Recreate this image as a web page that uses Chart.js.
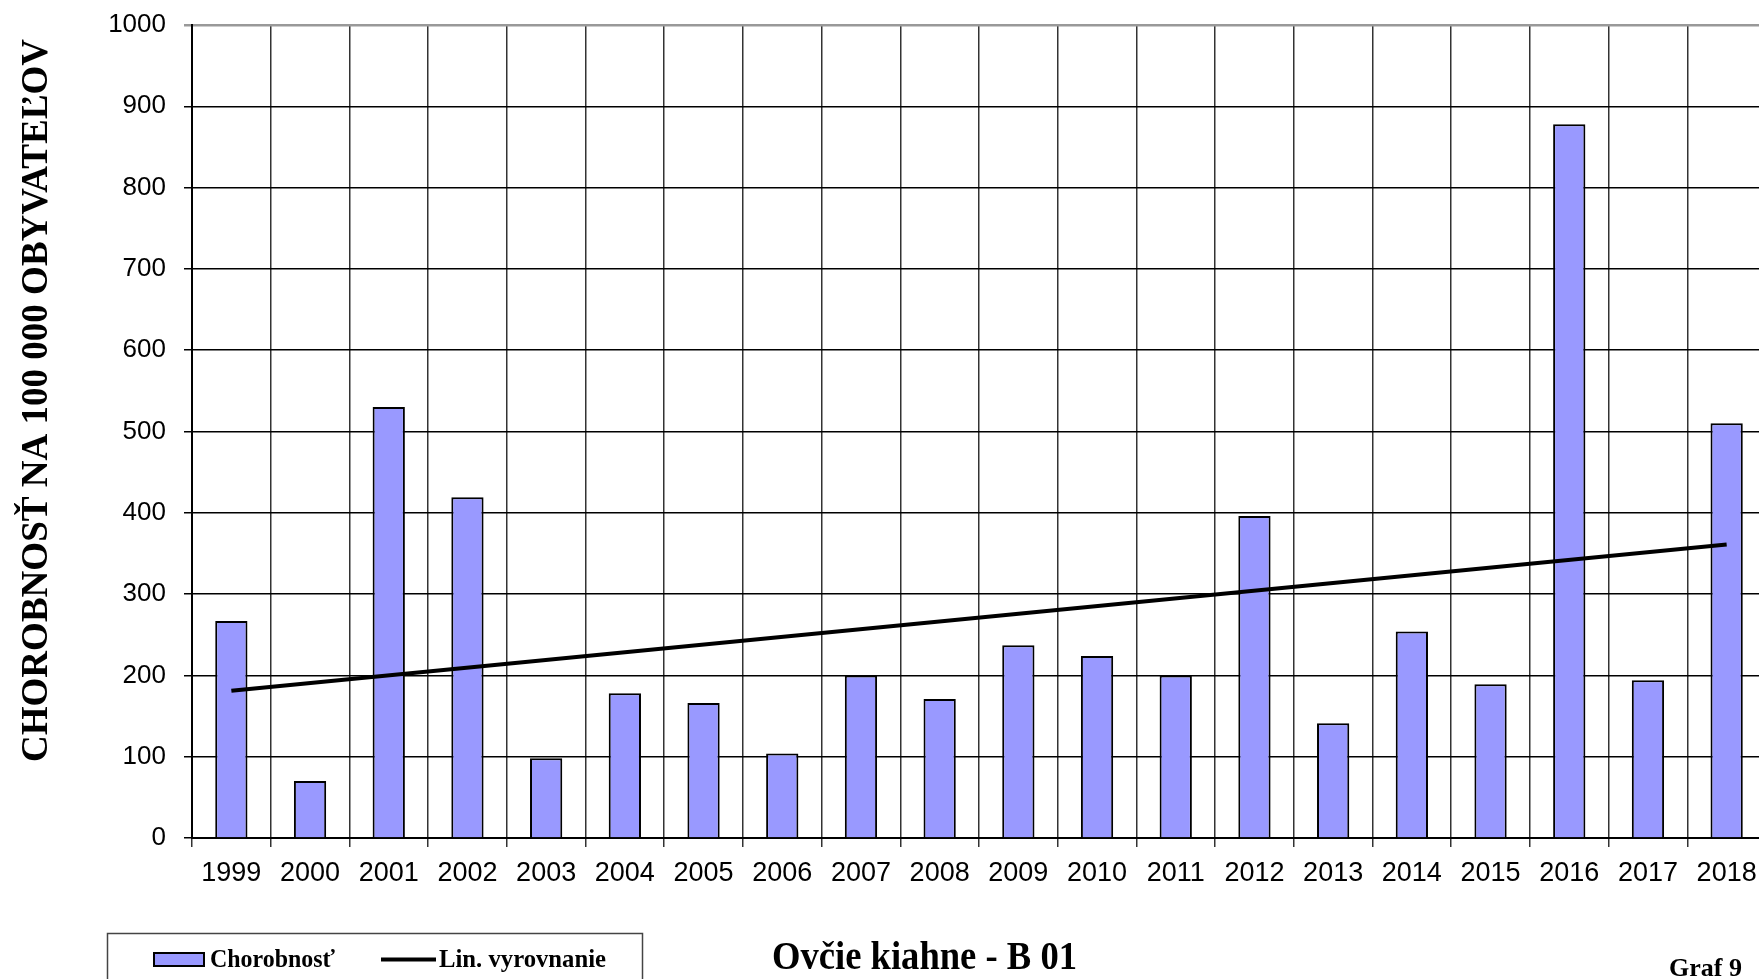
<!DOCTYPE html>
<html>
<head>
<meta charset="utf-8">
<title>Ovčie kiahne - B 01</title>
<script src="https://cdn.jsdelivr.net/npm/chart.js@4/dist/chart.umd.min.js"></script>
<style>
    html, body { margin: 0; padding: 0; background: #fff; overflow: hidden; }
    #graf { display: block; }
</style>
</head>
<body>
<canvas id="graf" width="1780" height="979"></canvas>
<script>
var roky = ["1999", "2000", "2001", "2002", "2003", "2004", "2005", "2006", "2007", "2008",
            "2009", "2010", "2011", "2012", "2013", "2014", "2015", "2016", "2017", "2018"];
var chorobnost = [267, 70, 530, 419, 98, 178, 166, 104, 200, 171,
                  237, 224, 200, 396, 141, 254, 189, 878, 194, 510];
// trend line: only its two end points
var vyrovnanie = [181, null, null, null, null, null, null, null, null, null,
                  null, null, null, null, null, null, null, null, null, 361];
var yTicks = [0, 100, 200, 300, 400, 500, 600, 700, 800, 900, 1000];

var nazovOsi = "CHOROBNOSŤ NA 100 000 OBYVATEĽOV";
var nazov = "Ovčie kiahne - B 01";
var cisloGrafu = "Graf 9";

var serif = '"Liberation Serif", "Times New Roman", serif';

// draws text squeezed to a given width
function textNaSirku(ctx, text, x, y, sirka) {
    var w = ctx.measureText(text).width;
    ctx.save();
    ctx.translate(x, y);
    ctx.scale(sirka / w, 1);
    ctx.fillText(text, 0, 0);
    ctx.restore();
}

var popisy = {
    id: 'popisy',
    afterDraw: function (chart) {
        var ctx = chart.ctx;
        ctx.save();
        ctx.fillStyle = '#000';
        ctx.textBaseline = 'alphabetic';

        // y axis title
        ctx.save();
        ctx.translate(47, 762);
        ctx.rotate(-Math.PI / 2);
        ctx.font = 'bold 38px ' + serif;
        ctx.textAlign = 'left';
        textNaSirku(ctx, nazovOsi, 0, 0, 723);
        ctx.restore();

        // legend
        ctx.strokeStyle = '#444';
        ctx.lineWidth = 1.5;
        ctx.strokeRect(107.5, 933.5, 535, 80);

        var ds = chart.data.datasets;
        ctx.fillStyle = ds[0].backgroundColor;
        ctx.fillRect(154, 953, 50, 13);
        ctx.strokeStyle = '#000';
        ctx.lineWidth = 2;
        ctx.strokeRect(154, 953, 50, 13);
        ctx.fillStyle = '#000';
        ctx.font = 'bold 25px ' + serif;
        ctx.textAlign = 'left';
        textNaSirku(ctx, ds[0].label, 210, 967, 125);

        ctx.beginPath();
        ctx.lineWidth = 4;
        ctx.moveTo(381, 959.5);
        ctx.lineTo(436, 959.5);
        ctx.stroke();
        textNaSirku(ctx, ds[1].label, 439, 967, 167);

        // title
        ctx.font = 'bold 39px ' + serif;
        textNaSirku(ctx, nazov, 772, 969, 305);

        ctx.font = 'bold 26px ' + serif;
        textNaSirku(ctx, cisloGrafu, 1669, 976, 73);
        ctx.restore();
    }
};

var ctx = document.getElementById("graf");
var graf = new Chart(ctx, {
    type: 'bar',
    data: {
        labels: roky,
        datasets: [{
            type: 'bar',
            label: 'Chorobnosť',
            data: chorobnost,
            backgroundColor: '#9999ff',
            borderColor: '#000',
            borderWidth: 2,
            barPercentage: 0.41,
            categoryPercentage: 1,
            order: 2
        }, {
            type: 'line',
            label: 'Lin. vyrovnanie',
            data: vyrovnanie,
            borderColor: '#000',
            borderWidth: 4,
            pointRadius: 0,
            spanGaps: true,
            fill: false,
            order: 1
        }]
    },
    options: {
        responsive: false,
        animation: false,
        devicePixelRatio: 1,
        layout: {
            padding: {left: 97, top: 25, right: 14, bottom: 91}
        },
        plugins: {
            legend: {display: false},
            tooltip: {enabled: false}
        },
        scales: {
            x: {
                offset: true,
                grid: {
                    offset: true,
                    color: '#333',
                    lineWidth: 1.5,
                    tickLength: 9
                },
                border: {color: '#000', width: 2},
                ticks: {
                    color: '#000',
                    padding: 10,
                    maxRotation: 0,
                    autoSkip: false,
                    font: {family: '"Liberation Sans", Arial, sans-serif', size: 27}
                },
                afterFit: function (s) { s.height = 50; }
            },
            y: {
                min: 0,
                max: 1000,
                afterBuildTicks: function (s) {
                    s.ticks = yTicks.map(function (v) { return {value: v}; });
                },
                grid: {
                    color: function (c) { return c.tick && c.tick.value === 1000 ? '#999' : '#000'; },
                    lineWidth: function (c) { return c.tick && c.tick.value === 1000 ? 2.5 : 1.5; },
                    tickLength: 8
                },
                border: {color: '#000', width: 2},
                ticks: {
                    color: '#000',
                    padding: 18,
                    font: {family: '"Liberation Sans", Arial, sans-serif', size: 26},
                    callback: function (v) { return String(v); }
                },
                afterFit: function (s) {
                    s.width = 95;
                    s.paddingTop = 0;
                    s.paddingBottom = 0;
                }
            }
        }
    },
    plugins: [popisy]
});
</script>
</body>
</html>
